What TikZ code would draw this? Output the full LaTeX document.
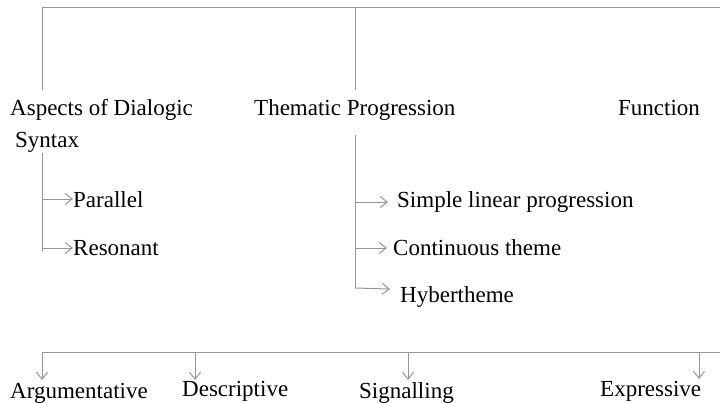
\documentclass[tikz,border=0pt]{standalone}
\usepackage{fontspec}
\setmainfont{Liberation Serif}
\usetikzlibrary{arrows.meta}
\definecolor{lgray}{RGB}{150,150,150}
\begin{document}
\begin{tikzpicture}[x=1pt,y=-1pt,
  lbl/.style={anchor=base west,inner sep=0pt,font=\fontsize{23}{30}\selectfont},
  ln/.style={draw=lgray,line width=1pt},
  arr/.style={ln,-{Straight Barb[length=7pt,width=11pt,line width=1pt]}}]
\useasboundingbox (0,0) rectangle (720,402);
% texts
\node[lbl] (asp) at (10,115) {Aspects of Dialogic};
\node[lbl] (syn) at (15,147) {Syntax};
\node[lbl] (them) at (254,115) {Thematic Progression};
\node[lbl] (func) at (618,115) {Function};
\node[lbl] (par) at (73,207) {Parallel};
\node[lbl] (res) at (73,255) {Resonant};
\node[lbl] (sim) at (397,207) {Simple linear progression};
\node[lbl] (con) at (393,255) {Continuous theme};
\node[lbl] (hyb) at (400,302) {Hybertheme};
\node[lbl] (arg) at (10,398) {Argumentative};
\node[lbl] (des) at (182,396) {Descriptive};
\node[lbl] (sig) at (359,398) {Signalling};
\node[lbl] (exp) at (600,396) {Expressive};
% top tree
\coordinate (tl) at (42,7);
\coordinate (tm) at (355,7);
\coordinate (tr) at (720,7);
\coordinate (la) at (42,90);
\coordinate (ma) at (355,90);
\draw[ln] (tr) -- (tl) -- (la);
\draw[ln] (tm) -- (ma);
% left sub-list
\coordinate (lb) at (42,153);
\coordinate (lc) at (42,251);
\coordinate (lp) at (42,199);
\coordinate (lr) at (42,248);
\draw[ln] (lb) -- (lc);
\draw[arr] (lp) -- (par.west |- lp);
\draw[arr] (lr) -- (res.west |- lr);
% middle sub-list
\coordinate (mb) at (355,135);
\coordinate (mc) at (355,288);
\coordinate (ms) at (355,202);
\coordinate (mn) at (355,248);
\draw[ln] (mb) -- (mc);
\coordinate (ts) at (388,202);
\coordinate (tn) at (387,248);
\coordinate (th) at (390,289);
\draw[arr] (ms) -- (ts);
\draw[arr] (mn) -- (tn);
\draw[arr] (mc) -- (th);
% bottom row
\coordinate (bl) at (42,352);
\coordinate (br) at (720,352);
\draw[ln] (bl) -- (br);
\coordinate (bd) at (195,352);
\coordinate (bs) at (408,352);
\coordinate (be) at (699,352);
\draw[arr] (bl) -- (42,380);
\draw[arr] (bd) -- (195,380);
\draw[arr] (bs) -- (408,380);
\draw[arr] (be) -- (699,379);
\end{tikzpicture}
\end{document}
